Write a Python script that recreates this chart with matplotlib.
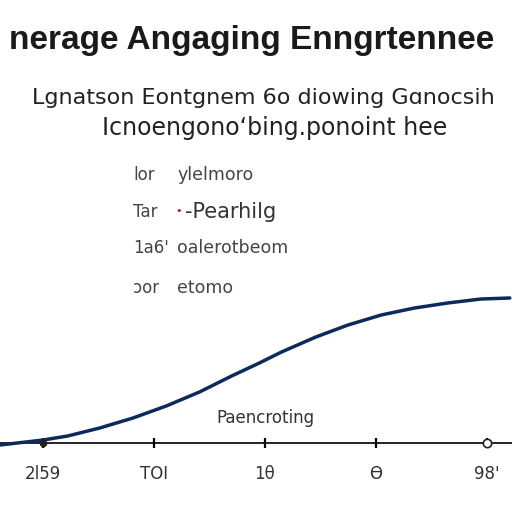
import matplotlib.pyplot as plt
import numpy as np

# curve (x in tick units, y above the axis)
curve_x = [0.61, 1.0, 1.22, 1.51, 1.81, 2.11, 2.41, 2.70, 2.95, 3.15,
           3.46, 3.75, 4.05, 4.35, 4.65, 4.95, 5.21]
curve_y = [-2, 3, 7, 15, 25, 37, 51, 67, 80, 91,
           106, 118, 128, 135, 140, 144, 145]

tick_pos = [1, 2, 3, 4, 5]
tick_labels = ['2l59', 'TOI', '1θ', 'ϴ', '98\'']

title = 'nerage Angaging Enngrtennee'
subtitle1 = 'Lgnatson Eontgnem 6o diowing Gɑnocsih'
subtitle2 = 'Icnoengonoʻbing.ponoint hee'
legend_left = ['lor', 'Tar', '1a6\'', 'ɔor']
legend_right = ['ylelmoro', '-Pearhilg', 'oalerotbeom', 'etomo']
axis_note = 'Paencroting'

fig = plt.figure(figsize=(5.12, 5.12), dpi=100)
ax = fig.add_axes([0, 0, 1, 1])
ax.set_xlim(0.61, 5.23)
ax.set_ylim(-69, 443)

ax.plot(curve_x, curve_y, color='#0c2b5c', lw=2.5, solid_capstyle='round',
        solid_joinstyle='round', zorder=3)
ax.plot([1], [0], 'o', color='#222222', ms=4.5, zorder=4)
ax.plot([5], [0], 'o', mfc='white', mec='#222222', ms=6, mew=1.2, zorder=4)

for s in ['top', 'right', 'left']:
    ax.spines[s].set_visible(False)
ax.spines['bottom'].set_position(('data', 0))
ax.spines['bottom'].set_linewidth(1.2)
ax.set_yticks([])
ax.set_xticks(tick_pos)
ax.set_xticklabels(tick_labels, fontsize=12, color='#333333')
ax.tick_params(axis='x', direction='inout', length=7, width=1.6, pad=12)

def px(x, y):
    return x / 512, 1 - y / 512

fig.text(*px(252, 40), title, fontsize=24, fontweight='bold',
         family='Liberation Sans', color='#1a1a1a', ha='center', va='center')
fig.text(*px(32, 98), subtitle1, fontsize=16, color='#222222',
         ha='left', va='center')
fig.text(*px(275, 128), subtitle2, fontsize=17, color='#222222',
         ha='center', va='center')

rows_y = [175, 212, 248, 288]
for i, (a, b) in enumerate(zip(legend_left, legend_right)):
    fig.text(*px(133, rows_y[i]), a, fontsize=12, color='#444444',
             ha='left', va='center')
    if i == 1:
        fig.text(*px(185, rows_y[i]), b, fontsize=15, color='#333333',
                 ha='left', va='center')
        fig.text(*px(179, rows_y[i] - 1), '•', fontsize=8, color='#d0103a',
                 ha='center', va='center')
    else:
        fig.text(*px(177, rows_y[i]), b, fontsize=12.5, color='#444444',
                 ha='left', va='center')

fig.text(*px(265, 418), axis_note, fontsize=12, color='#333333',
         ha='center', va='center')

fig.savefig('out.png', dpi=100, facecolor='white')
